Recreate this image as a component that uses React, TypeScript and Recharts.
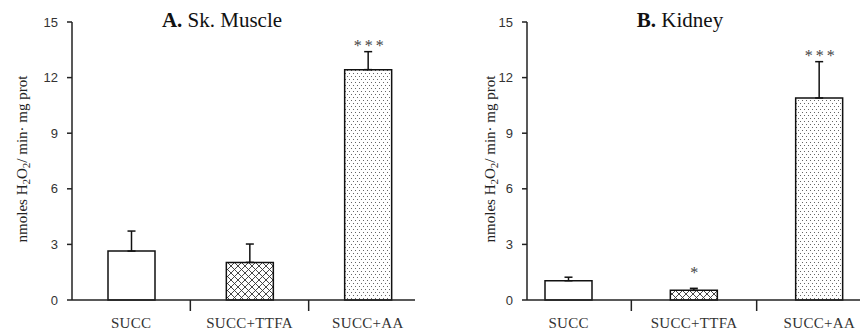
import { BarChart, Bar, XAxis, YAxis, ErrorBar, Cell, LabelList, Label } from 'recharts'

const categories = ['SUCC', 'SUCC+TTFA', 'SUCC+AA']
const fills = ['#ffffff', 'url(#fillHatch)', 'url(#fillDots)']
const yTicks = [0, 3, 6, 9, 12, 15]

const muscleMean = [2.64, 2.03, 12.43]
const muscleSem = [1.08, 0.99, 0.97]
const muscleSig = ['', '', '***']

const kidneyMean = [1.04, 0.52, 10.9]
const kidneySem = [0.19, 0.11, 1.96]
const kidneySig = ['', '*', '***']

const serif = "'Liberation Serif', 'Times New Roman', serif"
const sans = "'Liberation Sans', Arial, sans-serif"

function buildRows(mean: number[], sem: number[], sig: string[]) {
  return categories.map((name, i) => ({ name, mean: mean[i], err: [0, sem[i]], sig: sig[i] }))
}

function CategoryTick(props: any) {
  const { x, y, payload, index, half } = props
  const h = payload?.offset || half
  return (
    <g>
      <text x={x} y={y + 28} textAnchor="middle" fontFamily={serif} fontSize={15} letterSpacing={0.3} fill="#333">
        {payload.value}
      </text>
      {index < categories.length - 1 && (
        <line x1={x + h} x2={x + h} y1={y} y2={y + 11} stroke="#222" strokeWidth={1.5} />
      )}
    </g>
  )
}

function YTitle(props: any) {
  const { viewBox, labelX } = props
  const cy = viewBox.y + viewBox.height / 2 - 2
  const x = labelX
  return (
    <text
      x={x}
      y={cy}
      transform={`rotate(-90 ${x} ${cy})`}
      textAnchor="middle"
      fontFamily={serif}
      fontSize={15}
      fill="#222"
    >
      nmoles H<tspan dy={3} fontSize={11}>2</tspan>
      <tspan dy={-3}>O</tspan>
      <tspan dy={3} fontSize={11}>2</tspan>
      <tspan dy={-3}>/ min· mg prot</tspan>
    </text>
  )
}

const sigLabel = (mean: number[], sem: number[]) => (p: any) => {
  const { x, y, width, height, value, index } = p
  if (!value) return null
  const pxPerUnit = height / mean[index]
  const top = y - sem[index] * pxPerUnit
  const gap = value.length === 1 ? 10 : 1
  return (
    <text x={x + width / 2 + 2} y={top - gap} textAnchor="middle" fontFamily={serif} fontSize={16} letterSpacing={3} fill="#444">
      {value}
    </text>
  )
}

interface PanelProps {
  mean: number[]
  sem: number[]
  sig: string[]
  left: number
  width: number
  marginRight: number
  padLeft: number
  padRight: number
  half: number
  labelX: number
}

function Panel({ mean, sem, sig, left, width, marginRight, padLeft, padRight, half, labelX }: PanelProps) {
  const rows = buildRows(mean, sem, sig)
  return (
    <div style={{ position: 'absolute', left, top: 0 }}>
      <BarChart width={width} height={332} data={rows} margin={{ top: 22, right: marginRight, bottom: 2, left: 0 }}>
        <XAxis
          dataKey="name"
          height={30}
          padding={{ left: padLeft, right: padRight }}
          axisLine={{ stroke: '#222', strokeWidth: 1.5 }}
          tickLine={false}
          tickSize={0}
          tickMargin={0}
          interval={0}
          tick={<CategoryTick half={half} />}
        />
        <YAxis
          width={72}
          domain={[0, 15]}
          ticks={yTicks}
          interval={0}
          axisLine={{ stroke: '#222', strokeWidth: 1.5 }}
          tickLine={{ stroke: '#222', strokeWidth: 1.5 }}
          tickSize={5}
          tickMargin={9}
          tick={{ fontFamily: sans, fontSize: 13, fill: '#333' }}
        >
          <Label content={<YTitle labelX={labelX} />} />
        </YAxis>
        <Bar dataKey="mean" barSize={47} stroke="#111" strokeWidth={1.5} isAnimationActive={false}>
          {rows.map((r, i) => (
            <Cell key={r.name} fill={fills[i]} />
          ))}
          <ErrorBar dataKey="err" direction="y" width={4} stroke="#111" strokeWidth={1.5} />
          <LabelList dataKey="sig" content={sigLabel(mean, sem)} />
        </Bar>
      </BarChart>
    </div>
  )
}

export default function App() {
  return (
    <div style={{ position: 'absolute', left: 0, top: 0, width: 860, height: 332, background: '#fff', overflow: 'hidden' }}>
      <svg width={860} height={332} style={{ position: 'absolute', left: 0, top: 0, pointerEvents: 'none' }}>
        <defs>
          <pattern id="fillHatch" patternUnits="userSpaceOnUse" width={7} height={7}>
            <rect width={7} height={7} fill="#fff" />
            <path d="M0,0 L7,7 M7,0 L0,7" stroke="#333" strokeWidth={0.9} />
          </pattern>
          <pattern id="fillDots" patternUnits="userSpaceOnUse" width={4} height={6}>
            <rect width={4} height={6} fill="#fff" />
            <rect x={1} y={1} width={1} height={1} fill="#666" />
            <rect x={3} y={4} width={1} height={1} fill="#666" />
          </pattern>
        </defs>
        <text x={222} y={27} textAnchor="middle" fontFamily={serif} fontSize={21} fill="#111">
          <tspan fontWeight="bold">A.</tspan> Sk. Muscle
        </text>
        <text x={680} y={27} textAnchor="middle" fontFamily={serif} fontSize={21} fill="#111">
          <tspan fontWeight="bold">B.</tspan> Kidney
        </text>
      </svg>
      <Panel
        mean={muscleMean}
        sem={muscleSem}
        sig={muscleSig}
        left={0}
        width={430}
        marginRight={15}
        padLeft={0}
        padRight={-12}
        half={59}
        labelX={27}
      />
      <Panel
        mean={kidneyMean}
        sem={kidneySem}
        sig={kidneySig}
        left={455}
        width={405}
        marginRight={0}
        padLeft={-21}
        padRight={-22}
        half={63}
        labelX={40}
      />
    </div>
  )
}
